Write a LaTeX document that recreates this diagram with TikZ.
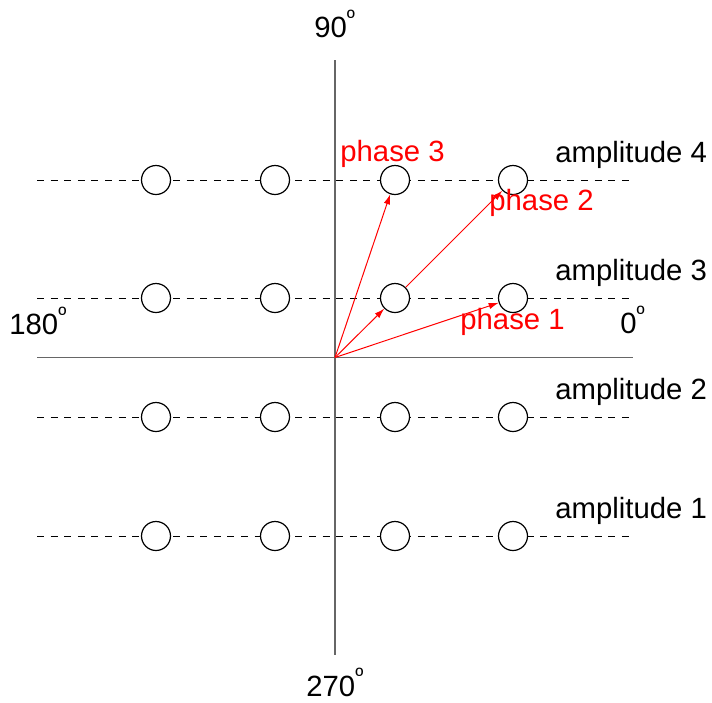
\documentclass[tikz,border=0pt]{standalone}
\usepackage{fontspec}
\setmainfont{Liberation Sans}
\usetikzlibrary{arrows.meta,positioning,calc}

% small raised ordinal used as degree mark
\newcommand{\degsup}{\raisebox{0.42em}{\fontsize{11}{11}\selectfont º}}

\begin{document}
\begin{tikzpicture}[x=0.5pt,y=-0.5pt,
  lbl/.style={inner sep=0pt, anchor=base west, font=\fontsize{14.65}{17.6}\selectfont},
  phaselbl/.style={lbl, text=red},
  point/.style={circle, draw=black, fill=white, line width=0.6pt, minimum size=14.5pt, inner sep=0pt},
  phasearrow/.style={red, line width=0.5pt, -{Latex[length=5pt,width=3.2pt]}},
  axisline/.style={draw=black!60, line width=0.6pt},
  levelline/.style={dash pattern=on 3.5pt off 3.3pt, line width=0.5pt}]

  % page size
  \useasboundingbox (0,0) rectangle (712,702);

  % amplitude levels (dashed)
  \foreach \y in {180,298,417,536}
    \draw[levelline] (37,\y) -- (632,\y);

  % axes
  \coordinate (o) at (335,357.5);
  \draw[axisline] (335,60) -- (335,655);
  \draw[axisline] (37,357.5) -- (633,357.5);

  % constellation points
  \foreach \x/\i in {156/1,275/2,395/3,513/4}
    \foreach \y/\j in {536/1,417/2,298/3,180/4}
      \node[point] (c\i-\j) at (\x,\y) {};

  % phase vectors
  \draw[phasearrow] (o) -- (c3-3);
  \draw[phasearrow] (c3-3) -- (c4-4);
  \draw[phasearrow] (o) -- (c3-4);
  \draw[phasearrow] (o) -- (c4-3);

  % amplitude labels
  \node[lbl] (amp4) at (555,162) {amplitude 4};
  \node[lbl] (amp3) at (555,280) {amplitude 3};
  \node[lbl] (amp2) at (555,399) {amplitude 2};
  \node[lbl] (amp1) at (555,518) {amplitude 1};

  % phase labels
  \node[phaselbl] (ph3) at (340,161.7) {phase 3};
  \node[phaselbl] (ph2) at (489,210) {phase 2};
  \node[phaselbl] (ph1) at (460,329.3) {phase 1};

  % angle labels
  \node[lbl] (a90) at (314,37.7) {90\degsup};
  \node[lbl] (a180) at (9,334.3) {180\degsup};
  \node[lbl] (a0) at (620,333.5) {0\degsup};
  \node[lbl] (a270) at (306,696) {270\degsup};
\end{tikzpicture}
\end{document}
